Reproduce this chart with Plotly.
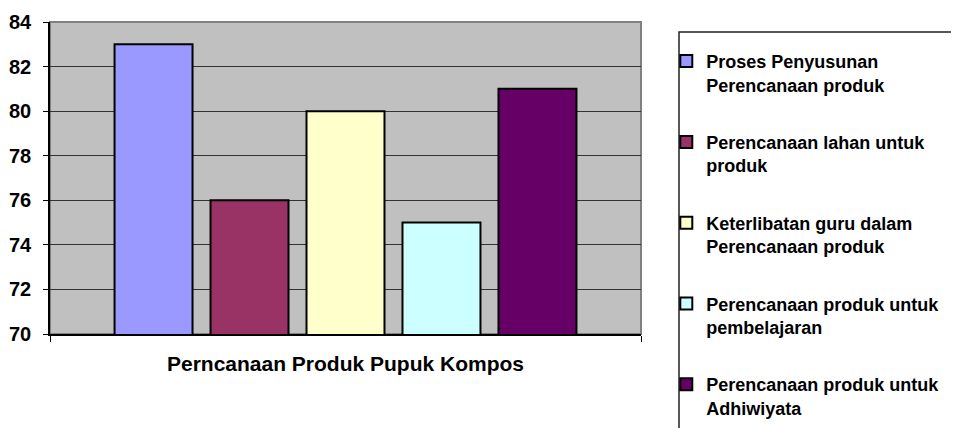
import plotly.graph_objects as go

# data
kategori = ["Perncanaan Produk Pupuk Kompos"]
nama_seri = [
    "Proses Penyusunan<br>Perencanaan produk",
    "Perencanaan lahan untuk<br>produk",
    "Keterlibatan guru dalam<br>Perencanaan produk",
    "Perencanaan produk untuk<br>pembelajaran",
    "Perencanaan produk untuk<br>Adhiwiyata",
]
nilai = [83, 76, 80, 75, 81]
warna = ["#9999FF", "#993366", "#FFFFCC", "#CCFFFF", "#660066"]

font_utama = "Arial, Liberation Sans, sans-serif"

fig = go.Figure()
for i in range(len(nilai)):
    fig.add_trace(go.Bar(x=kategori, y=[nilai[i]], name=nama_seri[i], legendgroup=str(i),
                         marker=dict(color=warna[i], line=dict(color="black", width=2))))

# bingkai plot abu-abu
fig.add_shape(type="rect", xref="x domain", yref="y domain", x0=0, x1=1, y0=0, y1=1,
              line=dict(color="#808080", width=2), layer="below")
# kotak legenda
fig.add_shape(type="rect", xref="paper", yref="paper", x0=1.0643, x1=2, y0=-0.4, y1=0.968,
              line=dict(color="#222222", width=1.5))

fig.update_xaxes(showline=True, linecolor="black", linewidth=2, ticks="outside", tickson="boundaries",
                 ticklen=6, tickcolor="black", ticklabelstandoff=10, automargin=False,
                 tickfont=dict(family=font_utama, size=21, color="black", weight="bold"))
fig.update_yaxes(range=[70, 84], dtick=2, showline=True, linecolor="black", linewidth=1.5,
                 ticks="outside", ticklen=5, tickcolor="black", ticklabelstandoff=8,
                 gridcolor="#333333", gridwidth=1, zeroline=False, automargin=False,
                 tickfont=dict(family=font_utama, size=20, color="black", weight="bold"))

# halaman punya margin 8px, jadi ukuran figur dikurangi 8
fig.update_layout(width=951, height=420, margin=dict(l=42, r=318, t=14, b=94, autoexpand=False),
                  paper_bgcolor="white", plot_bgcolor="#C0C0C0",
                  barmode="group", bargap=0.188, bargroupgap=0.1875,
                  legend=dict(x=1.0428, y=0.933, xanchor="left", yanchor="top", tracegroupgap=31,
                              itemwidth=30, bgcolor="rgba(0,0,0,0)", maxheight=1000, valign="top",
                              font=dict(family=font_utama, size=18, color="black", weight="bold")),
                  showlegend=True)

fig.write_html("out.html")
